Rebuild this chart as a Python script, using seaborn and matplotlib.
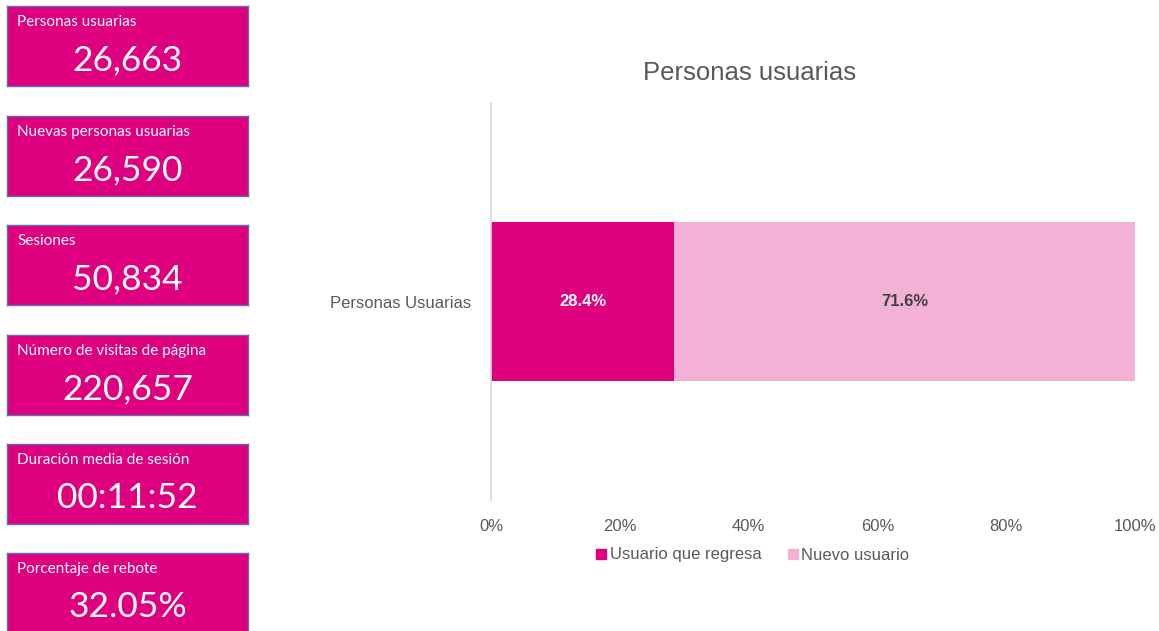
import matplotlib
matplotlib.use("Agg")
import matplotlib.pyplot as plt
from matplotlib.lines import Line2D
import seaborn as sns

# KPI cards on the left
kpi_labels = ["Personas usuarias", "Nuevas personas usuarias", "Sesiones",
              "Número de visitas de página", "Duración media de sesión",
              "Porcentaje de rebote"]
kpi_values = ["26,663", "26,590", "50,834", "220,657", "00:11:52", "32.05%"]

# stacked bar data
category = ["Personas Usuarias"]
series_names = ["Usuario que regresa", "Nuevo usuario"]
series_values = [28.4, 71.6]
x_ticks = [0, 20, 40, 60, 80, 100]

pink = "#DE007E"
light_pink = "#F3B1D6"
grey = "#595959"

sns.set_theme(style="white")
plt.rcParams["font.family"] = ["Liberation Sans", "DejaVu Sans"]

W, H = 1159, 631
fig = plt.figure(figsize=(W / 100, H / 100), dpi=100)

# cards
card_tops = [6, 116, 225, 335, 444, 553]
for top, lab, val in zip(card_tops, kpi_labels, kpi_values):
    cax = fig.add_axes([7 / W, 1 - (top + 80) / H, 241 / W, 80 / H])
    cax.set_facecolor(pink)
    cax.set_xticks([])
    cax.set_yticks([])
    for s in cax.spines.values():
        s.set_color("#5B6FB5")
        s.set_linewidth(1)
    cax.text(10 / 241, 1 - 16 / 80, lab, transform=cax.transAxes, color="white",
             fontsize=11, family=["Lato", "DejaVu Sans"], va="center", ha="left")
    cax.text(0.5, 1 - 54 / 80, val, transform=cax.transAxes, color="white",
             fontsize=25.5, family=["Lato", "DejaVu Sans"], va="center", ha="center")

# main chart
ax = fig.add_axes([491 / W, 1 - 500 / H, 644 / W, 397 / H])
total = sum(series_values)
sns.barplot(x=[total], y=category, color=light_pink, width=0.4, ax=ax,
            saturation=1, orient="h", linewidth=0)
sns.barplot(x=[series_values[0]], y=category, color=pink, width=0.4, ax=ax,
            saturation=1, orient="h", linewidth=0)
ax.set_xlim(0, 100)
ax.set_ylim(0.5, -0.5)
ax.set_xticks(x_ticks)
ax.set_xticklabels([f"{t}%" for t in x_ticks])
ax.tick_params(axis="x", colors=grey, labelsize=12, length=0, pad=14)
ax.tick_params(axis="y", colors=grey, labelsize=12, length=0, pad=14)
ax.set_xlabel("")
ax.set_ylabel("")
for side in ["top", "right", "bottom"]:
    ax.spines[side].set_visible(False)
ax.spines["left"].set_color("#D9D9D9")

# bar value labels
left = 0
for i, v in enumerate(series_values):
    ax.text(left + v / 2, 0, f"{v}%", ha="center", va="center", fontsize=12,
            fontweight="bold", color="white" if i == 0 else "#404040")
    left += v

fig.text(750 / W, 1 - 73 / H, "Personas usuarias", ha="center", va="center",
         fontsize=18.5, color=grey)

handles = [Line2D([], [], marker="s", linestyle="", markersize=7, color=c)
           for c in [pink, light_pink]]
fig.legend(handles, series_names, loc="center", bbox_to_anchor=(752 / W, 1 - 555 / H),
           ncol=2, frameon=False, fontsize=12, labelcolor=grey, handletextpad=0.1,
           columnspacing=1.5, handlelength=0.8)

fig.savefig("out.png", dpi=100)
